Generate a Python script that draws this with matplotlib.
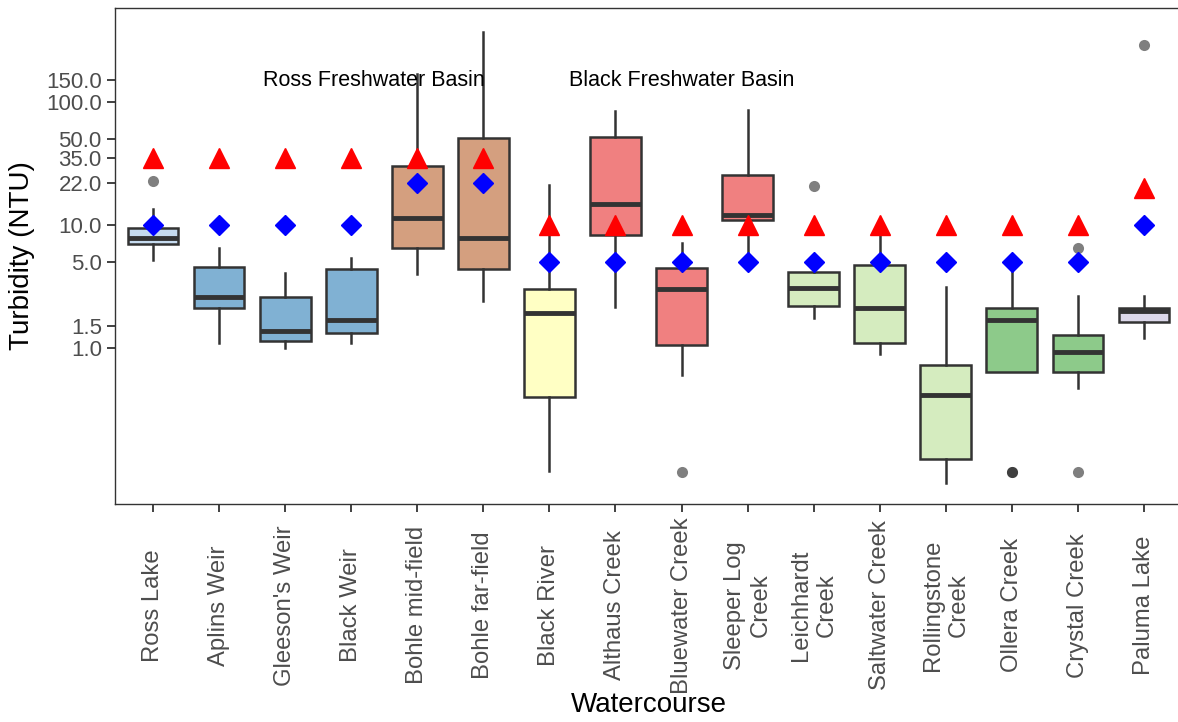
import matplotlib
matplotlib.use("Agg")
import matplotlib.pyplot as plt
from matplotlib.ticker import FixedLocator, FixedFormatter

plt.rcParams['font.family'] = ['Liberation Sans', 'DejaVu Sans']

sites = ["Ross Lake", "Aplins Weir", "Gleeson's Weir", "Black Weir",
         "Bohle mid-field", "Bohle far-field", "Black River", "Althaus Creek",
         "Bluewater Creek", "Sleeper Log\nCreek", "Leichhardt\nCreek",
         "Saltwater Creek", "Rollingstone\nCreek", "Ollera Creek",
         "Crystal Creek", "Paluma Lake"]

# box statistics (NTU)
whislo = [5.2, 1.1, 1.0, 1.1, 4.0, 2.4, 0.10, 2.15, 0.60, 5.0, 1.75, 0.89, 0.08, 0.64, 0.47, 1.2]
q1 = [7.0, 2.1, 1.14, 1.32, 6.5, 4.4, 0.40, 8.3, 1.06, 11.0, 2.19, 1.1, 0.125, 0.64, 0.64, 1.63]
med = [7.8, 2.6, 1.37, 1.69, 11.4, 7.8, 1.93, 14.8, 3.0, 12.1, 3.07, 2.11, 0.415, 1.69, 0.93, 2.0]
q3 = [9.4, 4.56, 2.6, 4.39, 30.2, 51.0, 3.02, 52.0, 4.47, 25.5, 4.15, 4.73, 0.73, 2.11, 1.28, 2.11]
whishi = [13.5, 6.5, 4.07, 5.39, 168.0, 370.0, 21.0, 84.0, 7.1, 86.0, 4.9, 10.1, 3.13, 5.0, 2.65, 2.65]
outliers = [[22.8], [], [], [], [], [], [], [], [0.098], [], [20.8], [], [],
            [0.098, 0.098], [6.5, 0.098], [290.0]]

# guideline values
trigger = [35, 35, 35, 35, 35, 35, 10, 10, 10, 10, 10, 10, 10, 10, 10, 20]
guideline = [10, 10, 10, 10, 22, 22, 5, 5, 5, 5, 5, 5, 5, 5, 5, 10]

colors = ['#c6dbef', '#80b1d3', '#80b1d3', '#80b1d3', '#d49f7f', '#d49f7f',
          '#ffffc4', '#f08080', '#f08080', '#f08080', '#d5ecbf', '#d5ecbf',
          '#d5ecbf', '#8dca8a', '#8dca8a', '#dcd8ea']

yticks = [1.0, 1.5, 5.0, 10.0, 22.0, 35.0, 50.0, 100.0, 150.0]

fig = plt.figure(figsize=(11.78, 7.22), dpi=100)
ax = fig.add_axes([115 / 1178, 218 / 722, 1067 / 1178, 496.5 / 722])

stats = []
for i in range(len(sites)):
    stats.append(dict(med=med[i], q1=q1[i], q3=q3[i], whislo=whislo[i],
                      whishi=whishi[i], fliers=outliers[i]))

pos = list(range(len(sites)))
bp = ax.bxp(stats, positions=pos, widths=0.77, patch_artist=True, showcaps=False,
            boxprops=dict(edgecolor='#333333', linewidth=1.8),
            whiskerprops=dict(color='#333333', linewidth=1.8),
            medianprops=dict(color='#333333', linewidth=3.5, solid_capstyle='butt'),
            flierprops=dict(marker='o', markerfacecolor='black', markeredgecolor='none',
                            markersize=8, alpha=0.5))
for box, c in zip(bp['boxes'], colors):
    box.set_facecolor(c)

ax.plot(pos, trigger, linestyle='none', marker='^', color='#ff0000',
        markersize=15, zorder=5)
ax.plot(pos, guideline, linestyle='none', marker='D', color='#0000ff',
        markersize=10, zorder=5)

ax.text(3.35, 150, "Ross Freshwater Basin", ha='center', va='center', fontsize=15.5)
ax.text(8.0, 150, "Black Freshwater Basin", ha='center', va='center', fontsize=15.5)

ax.set_yscale('log')
ax.set_ylim(0.0537, 587)
ax.set_xlim(-0.575, 15.575)
ax.yaxis.set_major_locator(FixedLocator(yticks))
ax.yaxis.set_major_formatter(FixedFormatter(["%.1f" % v for v in yticks]))
ax.yaxis.set_minor_locator(FixedLocator([]))

ax.set_xticks(pos)
ax.set_xticklabels(sites, rotation=90, ha='center', va='center',
                   multialignment='center')
ax.tick_params(axis='x', pad=67, labelsize=17.2, labelcolor='#4d4d4d',
               length=6, width=1.3, color='#333333')
ax.tick_params(axis='y', labelsize=16, labelcolor='#4d4d4d',
               length=6, width=1.3, color='#333333')

for s in ax.spines.values():
    s.set_color('#333333')
    s.set_linewidth(1.0)

ax.set_ylabel("Turbidity (NTU)", fontsize=20, color='black', labelpad=8)
ax.set_xlabel("Watercourse", fontsize=20, color='black', va='center')
ax.xaxis.set_label_coords(0.5, -0.405)

fig.savefig("out.png", dpi=100)
